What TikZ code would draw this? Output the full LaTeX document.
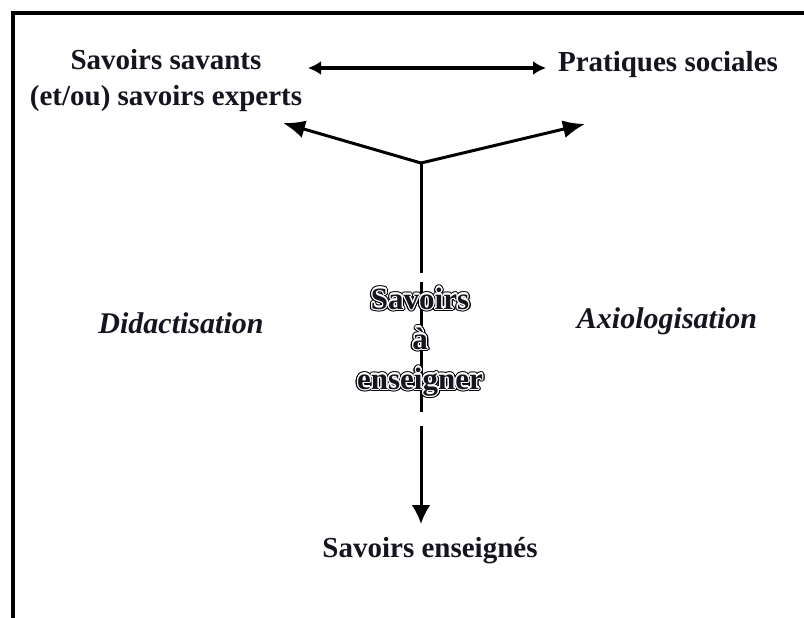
\documentclass[tikz,border=0pt]{standalone}
\usepackage{fontspec}
\setmainfont{Liberation Serif}
\usepackage{contour}
\usetikzlibrary{arrows.meta,calc}

\definecolor{ink}{HTML}{15151F}

% white halo inside a black rim, text in ink
\newcommand\haloword[1]{%
  \makebox[0pt]{\color{black}\contourlength{2.5pt}\contour{black}{#1}}%
  \makebox[0pt]{\color{ink}\contourlength{1.2pt}\contour{white}{#1}}}

\tikzset{
  lbl/.style={font=\fontsize{29}{36}\selectfont\bfseries, text=ink, inner sep=0pt, align=center},
  proc/.style={font=\fontsize{30}{36}\selectfont\bfseries\itshape, text=ink, inner sep=0pt},
  link/.style={line width=3pt, draw=black},
  bigtip/.style={-{Latex[length=22pt,width=18pt]}},
  dbl/.style={line width=4pt, {Latex[length=13pt,width=14pt]}-{Latex[length=13pt,width=14pt]}},
}

\begin{document}
\begin{tikzpicture}[x=1pt,y=-1pt]
  \useasboundingbox (0,0) rectangle (804,618);
  \fill[white] (0,0) rectangle (804,618);

  % frame (left and top sides)
  \draw[line width=3.2pt] (13,630) -- (13,13) -- (820,13);

  % labels
  \node[lbl] (sav) at (166,81) {Savoirs savants\\(et/ou) savoirs experts};
  \node[lbl, anchor=base] (prat) at (668,72) {Pratiques sociales};
  \node[lbl, anchor=base] (ens) at (430,557) {Savoirs enseignés};
  \node[proc, anchor=base] (did) at (181,333) {Didactisation};
  \node[proc, anchor=base] (axio) at (667,328) {Axiologisation};

  % junction and breaks along the vertical stem
  \coordinate (J) at (421,163);
  \coordinate (tl) at (283,123);
  \coordinate (tr) at (585,124);
  \coordinate (g1) at (421,273);
  \coordinate (g2) at (421,282);
  \coordinate (g3) at (421,412);
  \coordinate (g4) at (421,426);
  \coordinate (down) at (421,524);
  \coordinate (da1) at (308,68);
  \coordinate (da2) at (546,68);

  % connectors
  \draw[dbl] (da1) -- (da2);
  \draw[link, bigtip] (J) -- (tl);
  \draw[link, bigtip] (J) -- (tr);
  \draw[link] (J) -- (g1);
  \draw[link] (g2) -- (g3);
  \draw[link, -{Latex[length=19pt,width=19pt]}] (g4) -- (down);

  % central label on the stem
  \node[font=\fontsize{31}{40}\selectfont\bfseries, inner sep=0pt, align=center] (ase) at (420,343)
    {\haloword{Savoirs}\\\haloword{à}\\\haloword{enseigner}};
\end{tikzpicture}
\end{document}
